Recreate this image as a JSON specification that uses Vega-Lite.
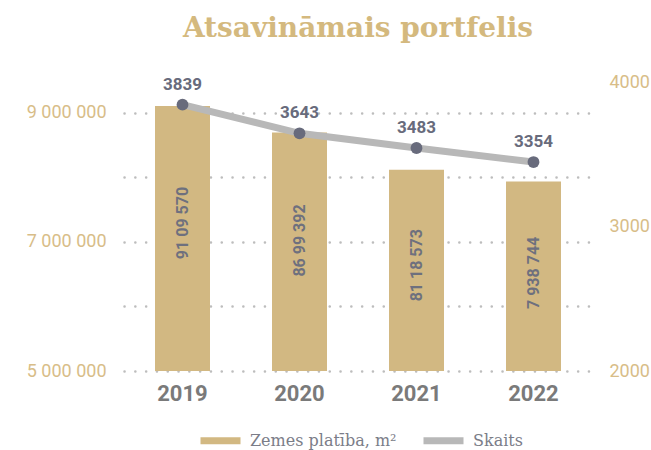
{
  "$schema": "https://vega.github.io/schema/vega-lite/v6.json",
  "width": 468,
  "height": 289,
  "autosize": "none",
  "padding": {"left": 124, "top": 82, "right": 59, "bottom": 79},
  "config": {
    "view": {"stroke": null},
    "locale": {"number": {"decimal": ",", "thousands": " ", "grouping": [3], "currency": ["", "€"]}}
  },
  "title": {
    "text": "Atsavināmais portfelis",
    "font": "DejaVu Serif",
    "fontWeight": "bold",
    "fontSize": 28,
    "color": "#d4b97e",
    "anchor": "middle",
    "frame": "group",
    "offset": 30
  },
  "data": {
    "values": [
      {"year": "2019", "area": 9109570, "areaLabel": "91 09 570", "count": 3839, "countPos": 3843},
      {"year": "2020", "area": 8699392, "areaLabel": "86 99 392", "count": 3643, "countPos": 3645},
      {"year": "2021", "area": 8118573, "areaLabel": "81 18 573", "count": 3483, "countPos": 3543},
      {"year": "2022", "area": 7938744, "areaLabel": "7 938 744", "count": 3354, "countPos": 3446}
    ]
  },
  "encoding": {
    "x": {
      "field": "year",
      "type": "nominal",
      "scale": {"paddingInner": 0.53, "paddingOuter": 0.265},
      "axis": {
        "title": null,
        "labelAngle": 0,
        "domain": false,
        "ticks": false,
        "labelFont": "Roboto",
        "labelFontWeight": "bold",
        "labelFontSize": 22,
        "labelColor": "#7a7a7a",
        "labelPadding": 12
      }
    }
  },
  "layer": [
    {
      "layer": [
        {
          "mark": {"type": "bar", "clip": true},
          "encoding": {
            "y": {
              "field": "area",
              "type": "quantitative",
              "scale": {"domain": [5000000, 9480600], "nice": false, "zero": false},
              "axis": {
                "title": null,
                "values": [5000000, 6000000, 7000000, 8000000, 9000000],
                "labelExpr": "datum.value % 2000000 == 0 ? '' : format(datum.value, ',d')",
                "domain": false,
                "ticks": false,
                "grid": true,
                "gridColor": "#bdbdbd",
                "gridWidth": 2.5,
                "gridCap": "round",
                "gridDash": [0.1, 10.7],
                "labelFont": "Roboto",
                "labelFontSize": 18,
                "labelColor": "#d8bd88",
                "labelPadding": 18
              }
            },
            "y2": {"datum": 5000000},
            "color": {
              "datum": "Zemes platība, m²",
              "type": "nominal",
              "scale": {"domain": ["Zemes platība, m²", "Skaits"], "range": ["#d2b882", "#b8b8b8"]},
              "legend": {
                "title": null,
                "orient": "none",
                "legendX": 73,
                "legendY": 335,
                "direction": "horizontal",
                "symbolType": "stroke",
                "symbolSize": 1600,
                "symbolStrokeWidth": 7,
                "labelFont": "DejaVu Serif",
                "labelFontSize": 16,
                "labelColor": "#7b7d88",
                "columnPadding": 12,
                "labelOffset": 6,
                "encode": {
                  "symbols": {"update": {"stroke": {"scale": "color", "field": "value"}, "strokeWidth": {"value": 7}}}
                }
              }
            }
          }
        },
        {
          "transform": [{"calculate": "datum.area * 0.66 + 1282000", "as": "labelPos"}],
          "mark": {"type": "text", "angle": 270, "font": "Roboto", "fontWeight": "bold", "fontSize": 16, "color": "#6e707e", "baseline": "middle", "align": "center"},
          "encoding": {
            "y": {"field": "labelPos", "type": "quantitative"},
            "text": {"field": "areaLabel"}
          }
        }
      ]
    },
    {
      "encoding": {
        "y": {
          "field": "countPos",
          "type": "quantitative",
          "scale": {"domain": [2000, 4000], "nice": false, "zero": false},
          "axis": {
            "title": null,
            "orient": "right",
            "values": [2000, 3000, 4000],
            "format": "d",
            "domain": false,
            "ticks": false,
            "grid": false,
            "labelFont": "Roboto",
            "labelFontSize": 18,
            "labelColor": "#d8bd88",
            "labelPadding": 17
          }
        }
      },
      "layer": [
        {
          "mark": {"type": "line", "strokeWidth": 7},
          "encoding": {
            "color": {"datum": "Skaits", "type": "nominal"}
          }
        },
        {
          "mark": {"type": "point", "filled": true, "opacity": 1, "size": 140, "color": "#686b7c"},
          "encoding": {}
        },
        {
          "mark": {"type": "text", "font": "Roboto", "fontWeight": "bold", "fontSize": 17, "color": "#686b7c", "dy": -15, "baseline": "alphabetic"},
          "encoding": {"text": {"field": "count", "type": "quantitative", "format": "d"}}
        }
      ]
    }
  ],
  "resolve": {"scale": {"y": "independent"}}
}
